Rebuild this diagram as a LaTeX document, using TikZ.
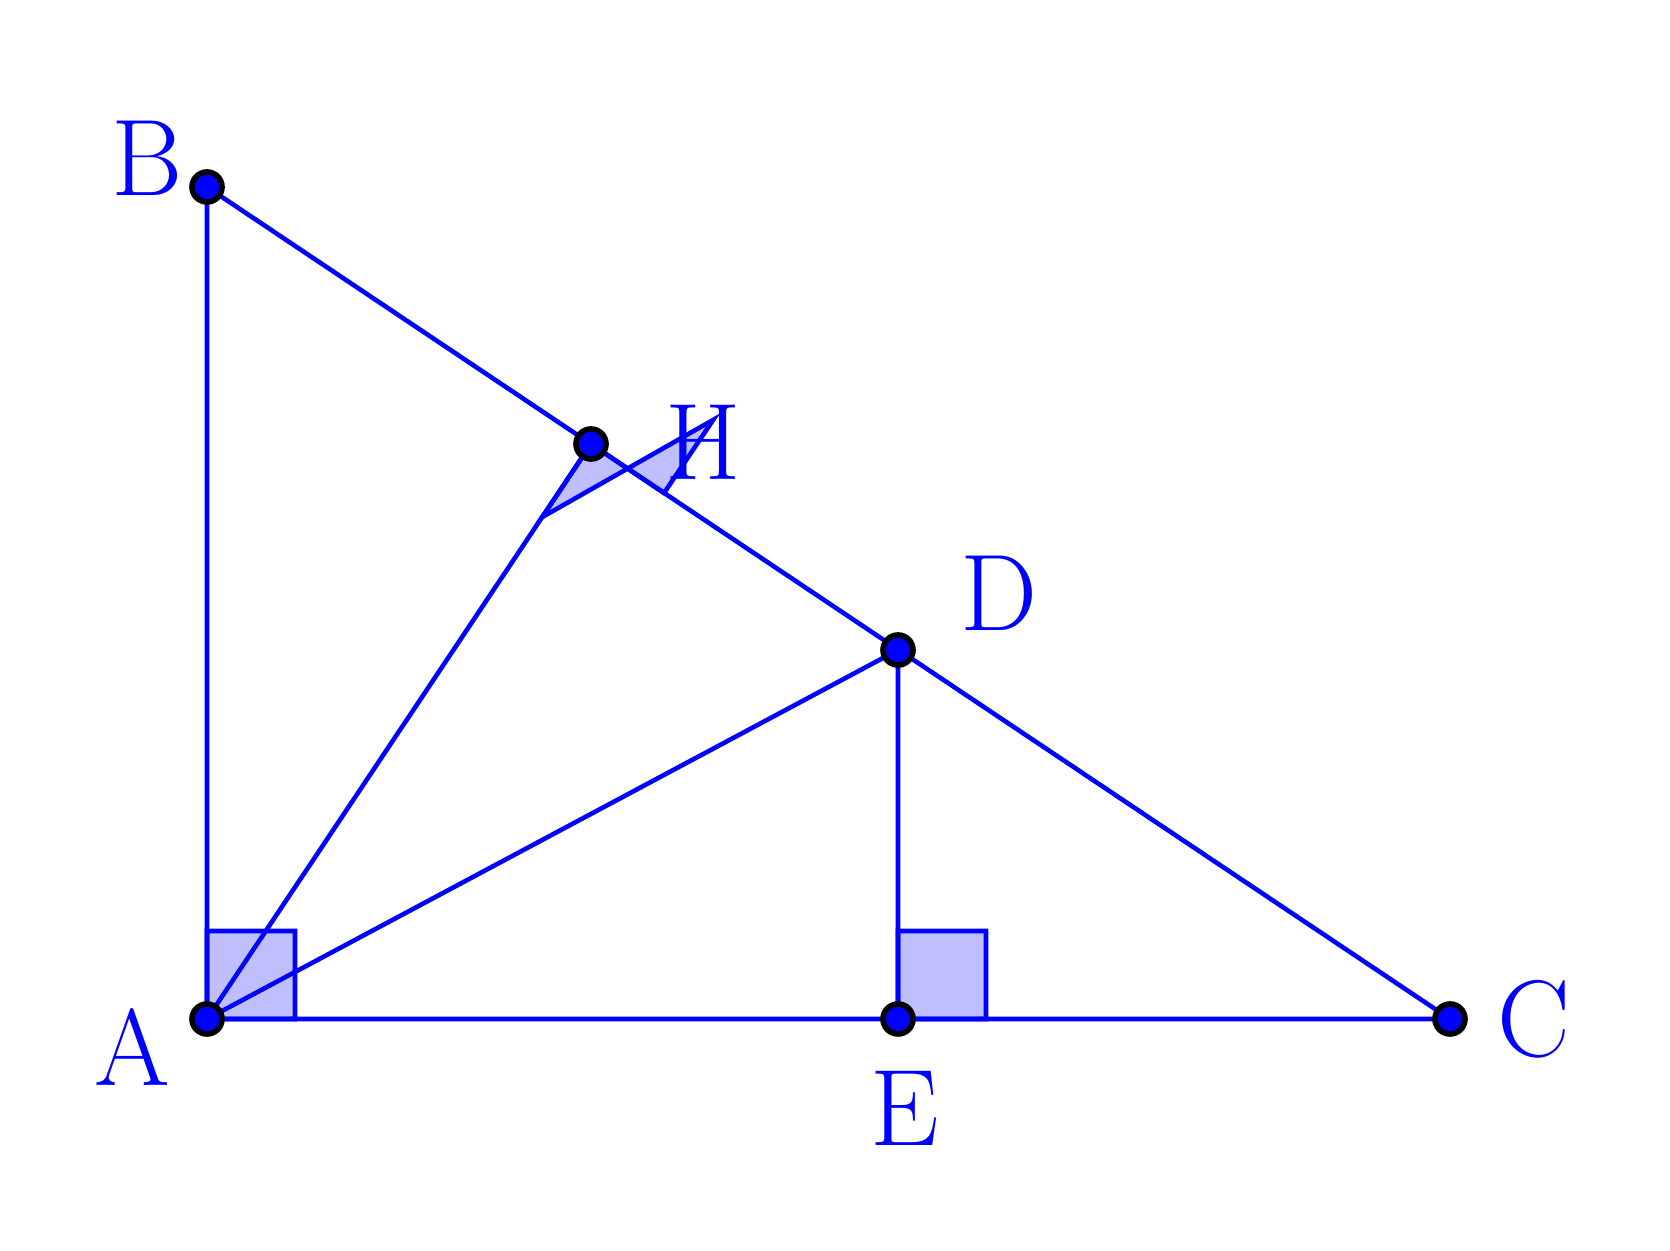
\documentclass[tikz,border=0pt]{standalone}
\usetikzlibrary{calc}
\tikzset{
  seg/.style={blue, line width=1.3pt},
  rightang/.style={blue, line width=1.3pt, fill=blue!25},
  pt/.style={circle, fill=blue, draw=black, line width=1.6pt, inner sep=0pt, minimum size=0.3cm},
  lbl/.style={blue, font=\fontsize{31}{34}\selectfont}
}
\begin{document}
\begin{tikzpicture}
\useasboundingbox (0,0) rectangle (16.7,-12.51);
% points
\coordinate (A) at (2.07,-10.19);
\coordinate (B) at (2.07,-1.87);
\coordinate (C) at (14.50,-10.19);
\coordinate (E) at (8.98,-10.19);
\coordinate (D) at (8.98,-6.50);
\coordinate (H) at (5.91,-4.44);
% right angles
\draw[rightang] (A) -- ($(A)!0.88cm!(C)$) -- ($(A)!0.88cm!(C)+(0,0.88)$) -- ($(A)!0.88cm!(B)$) -- cycle;
\draw[rightang] (E) -- ($(E)!0.88cm!(C)$) -- ($(E)!0.88cm!(C)+(0,0.88)$) -- ($(E)!0.88cm!(D)$) -- cycle;
\draw[rightang] (H) -- ($(H)!0.88cm!(D)$) -- ($(H)!0.88cm!(D)!0.88cm!90:(D)$) -- ($(H)!0.88cm!(A)$) -- cycle;
% sides
\draw[seg] (A) -- (B) -- (C) -- cycle;
\draw[seg] (A) -- (H);
\draw[seg] (A) -- (D) -- (E);
% dots
\foreach \p in {A,B,C,D,E,H} \node[pt] (p\p) at (\p) {};
% labels
\node[lbl] (lA) at (1.32,-10.47) {A};
\node[lbl] (lB) at (1.47,-1.58) {B};
\node[lbl] (lC) at (15.34,-10.19) {C};
\node[lbl] (lD) at (9.99,-5.93) {D};
\node[lbl] (lE) at (9.05,-11.08) {E};
\node[lbl] (lH) at (7.03,-4.42) {H};
\end{tikzpicture}
\end{document}
